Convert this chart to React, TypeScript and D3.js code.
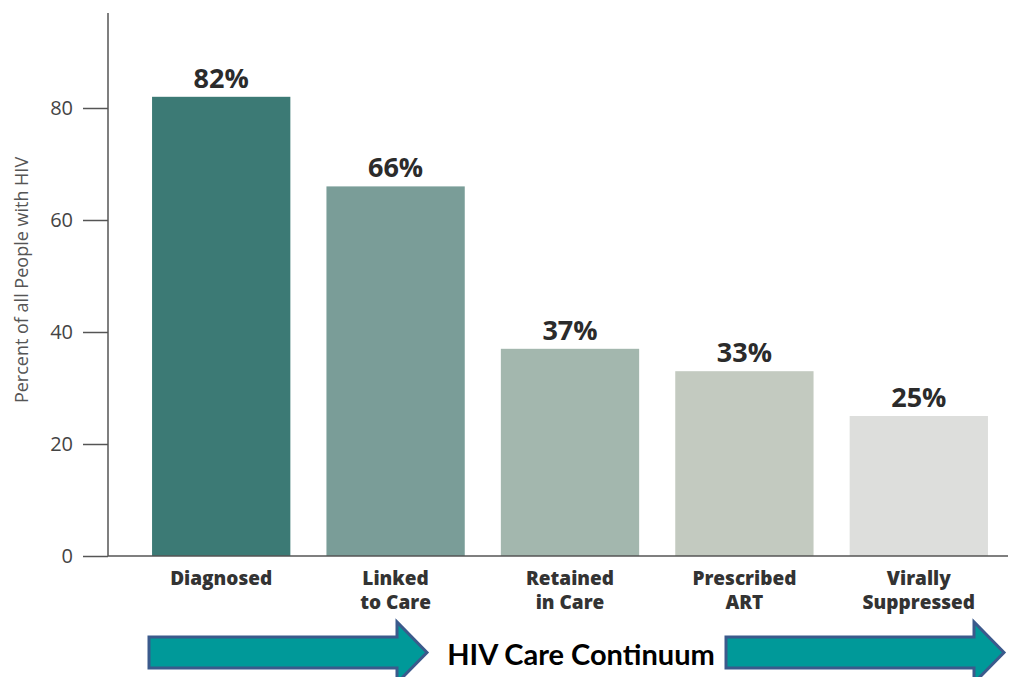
import React, { useEffect, useRef } from 'react';
import * as d3 from 'd3';

const categories = ['Diagnosed', 'Linked\nto Care', 'Retained\nin Care', 'Prescribed\nART', 'Virally\nSuppressed'];
const values = [82, 66, 37, 33, 25];
const barColors = ['#3c7a75', '#7a9d98', '#a3b7ae', '#c3cac0', '#dddedc'];
const yTicks = [0, 20, 40, 60, 80];
const yLabel = 'Percent of all People with HIV';
const footerLabel = 'HIV Care Continuum';

const W = 1020;
const H = 677;

const App: React.FC = () => {
  const ref = useRef<SVGSVGElement>(null);

  useEffect(() => {
    document.body.style.margin = '0';
    if (ref.current) draw(ref.current);
  }, []);

  return <svg ref={ref} width={W} height={H} style={{ display: 'block' }}></svg>;
};

const draw = (el: SVGSVGElement) => {
  const svg = d3.select(el);
  svg.selectAll('*').remove();
  svg.append('rect').attr('width', W).attr('height', H).attr('fill', '#fff');

  const axisX = 108;
  const baseY = 556;

  const y = d3.scaleLinear().domain([0, 97.5]).range([baseY, 10]);

  const x = d3
    .scaleBand<string>()
    .domain(categories)
    .range([134, 1006])
    .paddingInner(0.207)
    .paddingOuter(0.1035);

  // bars
  svg
    .selectAll('.bar')
    .data(values)
    .enter()
    .append('rect')
    .attr('class', 'bar')
    .attr('x', (d, i) => x(categories[i]) || 0)
    .attr('y', (d) => y(d))
    .attr('width', x.bandwidth())
    .attr('height', (d) => baseY - y(d))
    .attr('fill', (d, i) => barColors[i]);

  // value labels
  svg
    .selectAll('.val')
    .data(values)
    .enter()
    .append('text')
    .attr('class', 'val')
    .attr('x', (d, i) => (x(categories[i]) || 0) + x.bandwidth() / 2)
    .attr('y', (d) => y(d) - 9)
    .attr('text-anchor', 'middle')
    .attr('font-family', 'Open Sans, sans-serif')
    .attr('font-weight', 700)
    .attr('font-size', 27)
    .attr('fill', '#2b2b2b')
    .text((d) => `${d}%`);

  // y axis
  const yAxisG = svg.append('g').attr('transform', `translate(${axisX},0)`);
  yAxisG.call(d3.axisLeft(y).tickValues(yTicks).tickSize(25).tickPadding(10));
  yAxisG.select('.domain').remove();
  yAxisG.selectAll('.tick line').attr('stroke', '#555').attr('stroke-width', 1.5);
  yAxisG
    .selectAll('.tick text')
    .attr('fill', '#444')
    .attr('font-family', 'Open Sans, sans-serif')
    .attr('font-size', 20);

  svg
    .append('line')
    .attr('x1', axisX)
    .attr('x2', axisX)
    .attr('y1', 13)
    .attr('y2', baseY)
    .attr('stroke', '#555')
    .attr('stroke-width', 1.5);

  svg
    .append('line')
    .attr('x1', axisX)
    .attr('x2', 1008)
    .attr('y1', baseY)
    .attr('y2', baseY)
    .attr('stroke', '#555')
    .attr('stroke-width', 1.5);

  svg
    .append('text')
    .attr('transform', `translate(28, 280) rotate(-90)`)
    .attr('text-anchor', 'middle')
    .attr('font-family', 'Open Sans, sans-serif')
    .attr('font-size', 18)
    .attr('fill', '#555')
    .text(yLabel);

  // category labels
  categories.forEach((c) => {
    const lines = c.split('\n');
    const cx = (x(c) || 0) + x.bandwidth() / 2;
    const t = svg
      .append('text')
      .attr('x', cx)
      .attr('y', 585)
      .attr('text-anchor', 'middle')
      .attr('font-family', 'Open Sans, sans-serif')
      .attr('font-weight', 800)
      .attr('font-size', 19)
      .attr('fill', '#333');
    lines.forEach((l, i) => {
      t.append('tspan')
        .attr('x', cx)
        .attr('dy', i === 0 ? 0 : 24)
        .text(l);
    });
  });

  // arrows
  const arrow = (x0: number, x1: number) => {
    const headW = 30;
    const top = 637;
    const bot = 668;
    const headTop = 622;
    const headBot = 683;
    const mid = (top + bot) / 2;
    const pts: [number, number][] = [
      [x0, top],
      [x1 - headW, top],
      [x1 - headW, headTop],
      [x1, mid],
      [x1 - headW, headBot],
      [x1 - headW, bot],
      [x0, bot],
    ];
    svg
      .append('path')
      .attr('d', (d3.line()(pts) || '') + 'Z')
      .attr('fill', '#009999')
      .attr('stroke', '#3b5a8c')
      .attr('stroke-width', 3)
      .attr('stroke-linejoin', 'miter');
  };
  arrow(149, 427);
  arrow(726, 1004);

  svg
    .append('text')
    .attr('x', 581)
    .attr('y', 665)
    .attr('text-anchor', 'middle')
    .attr('font-family', 'Lato, sans-serif')
    .attr('font-weight', 700)
    .attr('font-size', 29)
    .attr('fill', '#000')
    .text(footerLabel);
};

export default App;
